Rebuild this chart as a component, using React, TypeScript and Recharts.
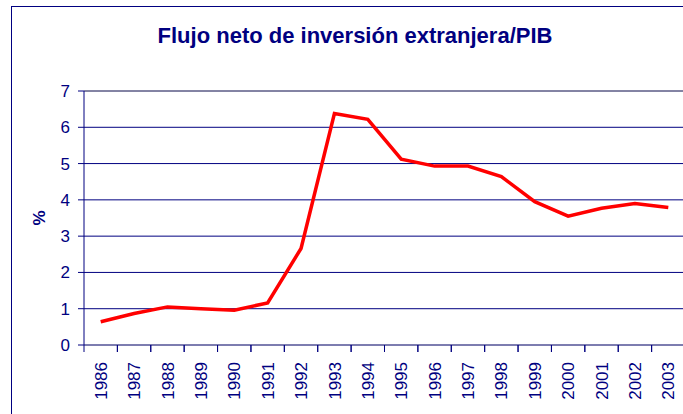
import {
  LineChart,
  Line,
  XAxis,
  YAxis,
  CartesianGrid,
  ReferenceLine,
  Label,
} from "recharts";

const years = [
  "1986", "1987", "1988", "1989", "1990", "1991", "1992", "1993", "1994",
  "1995", "1996", "1997", "1998", "1999", "2000", "2001", "2002", "2003",
];

const flujo = [
  0.64, 0.87, 1.05, 1.0, 0.96, 1.16, 2.66, 6.38, 6.22,
  5.12, 4.93, 4.93, 4.64, 3.95, 3.55, 3.77, 3.9, 3.79,
];

const yTicks = [0, 1, 2, 3, 4, 5, 6, 7];

const NAVY = "#000080";
const FONT = "'Liberation Sans', Arial, sans-serif";

const CHART_W = 700;
const Y_AXIS_W = 84;
const RIGHT = 15;
const TICK_SIZE = 7;
const TICK_MARGIN = 2;
const BAND = (CHART_W - Y_AXIS_W - RIGHT) / years.length;

const data = years.map((year, i) => ({ year, value: flujo[i] }));

// labels sit on the band centre, tick marks on the band edges (Excel style)
function YearTick(props: any) {
  const { x, y, payload } = props;
  const top = -(TICK_SIZE + TICK_MARGIN);
  return (
    <g transform={`translate(${x},${y})`}>
      <line x1={-BAND / 2} x2={-BAND / 2} y1={top} y2={top + TICK_SIZE} stroke={NAVY} />
      <line x1={BAND / 2} x2={BAND / 2} y1={top} y2={top + TICK_SIZE} stroke={NAVY} />
      <text
        transform="rotate(-90)"
        x={-8}
        y={0}
        dy="0.36em"
        textAnchor="end"
        fill={NAVY}
        fontSize={17}
        fontFamily={FONT}
      >
        {payload.value}
      </text>
    </g>
  );
}

export default function App() {
  return (
    <div
      style={{
        position: "absolute",
        left: 0,
        top: 0,
        width: 683,
        height: 414,
        overflow: "hidden",
        background: "#fff",
      }}
    >
      <div
        style={{
          position: "absolute",
          left: 11,
          top: 6,
          width: 700,
          height: 430,
          border: `1px solid ${NAVY}`,
        }}
      />
      <div
        style={{
          position: "absolute",
          left: 11,
          width: 688,
          top: 23,
          textAlign: "center",
          fontFamily: FONT,
          fontWeight: "bold",
          fontSize: 22,
          color: NAVY,
        }}
      >
        Flujo neto de inversión extranjera/PIB
      </div>
      <div style={{ position: "absolute", left: 0, top: 0 }}>
        <LineChart
          width={CHART_W}
          height={430}
          data={data}
          margin={{ top: 91, right: RIGHT, bottom: 0, left: 0 }}
        >
          <CartesianGrid vertical={false} stroke={NAVY} strokeDasharray="" />
          <ReferenceLine y={7} stroke="#888888" />
          <XAxis
            dataKey="year"
            scale="band"
            height={85}
            interval={0}
            tick={(p: any) => <YearTick {...p} />}
            tickSize={TICK_SIZE}
            tickMargin={TICK_MARGIN}
            tickLine={false}
            axisLine={{ stroke: "#7a7aa0" }}
          />
          <YAxis
            width={Y_AXIS_W}
            domain={[0, 7]}
            ticks={yTicks}
            tickSize={6}
            tickMargin={8}
            axisLine={{ stroke: NAVY }}
            tickLine={{ stroke: NAVY }}
            tick={{ fill: NAVY, fontSize: 17, fontFamily: FONT }}
          >
            <Label
              value="%"
              angle={-90}
              position="center"
              dx={-3}
              fill={NAVY}
              fontSize={17}
              fontWeight="bold"
              fontFamily={FONT}
            />
          </YAxis>
          <Line
            type="linear"
            dataKey="value"
            stroke="#ff0000"
            strokeWidth={3.5}
            dot={false}
            isAnimationActive={false}
          />
        </LineChart>
      </div>
    </div>
  );
}
